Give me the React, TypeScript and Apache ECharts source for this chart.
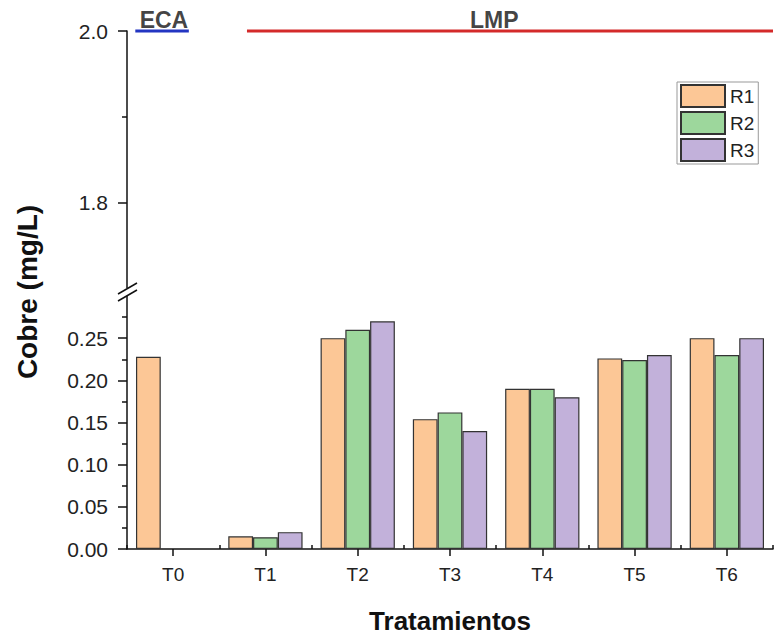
import React, { useEffect, useRef } from "react";
import * as echarts from "echarts";

const categories = ["T0", "T1", "T2", "T3", "T4", "T5", "T6"];
const seriesNames = ["R1", "R2", "R3"];
const r1 = [0.228, 0.015, 0.25, 0.154, 0.19, 0.226, 0.25];
const r2 = [null, 0.014, 0.26, 0.162, 0.19, 0.224, 0.23];
const r3 = [null, 0.02, 0.27, 0.14, 0.18, 0.23, 0.25];
const barColors = ["#FCC796", "#9DD79C", "#C2B1DA"];

const lowerMajorTicks = [0, 0.05, 0.1, 0.15, 0.2, 0.25];
const lowerMinorTicks = [0.025, 0.075, 0.125, 0.175, 0.225, 0.275];
const upperMajorTicks = [1.8, 2.0];
const upperMinorTicks = [1.9];

// reference limits drawn at 2.0 mg/L (x in category units, 0..7)
const ecaLine = [[0.09, 2.0], [0.67, 2.0]];
const lmpLine = [[1.3, 2.0], [7, 2.0]];
const refLabels = [[0.4, 2.0, "ECA"], [3.98, 2.0, "LMP"]];

const FONT = "Liberation Sans, Arial, sans-serif";

export default function App() {
  const ref = useRef<HTMLDivElement>(null);
  useEffect(() => {
    if (!ref.current) return;
    const chart = echarts.init(ref.current, null, { renderer: "svg" });
    const gridLeft = 127;
    const gridWidth = 646;
    const upper = { top: 31, height: 257 };
    const lower = { top: 296, height: 255 };
    const axisLineStyle = { color: "#111", width: 1.5 };

    const yCommon = (gridIndex: number, min: number, max: number) => ({
      type: "value",
      gridIndex,
      position: "left",
      min,
      max,
      splitLine: { show: false },
      axisLine: { show: true, lineStyle: axisLineStyle },
    });

    const option: any = {
      animation: false,
      backgroundColor: "#fff",
      textStyle: { fontFamily: FONT },
      grid: [
        { left: gridLeft, width: gridWidth, top: upper.top, height: upper.height },
        { left: gridLeft, width: gridWidth, top: lower.top, height: lower.height },
      ],
      xAxis: [
        { type: "value", gridIndex: 0, min: 0, max: 7, show: false },
        {
          type: "category",
          gridIndex: 1,
          data: categories,
          axisLine: { show: true, lineStyle: axisLineStyle },
          axisTick: { show: true, alignWithLabel: true, length: 7, lineStyle: { color: "#111", width: 1.5 } },
          axisLabel: { fontSize: 19, color: "#222", margin: 16, fontFamily: FONT },
          name: "Tratamientos",
          nameLocation: "middle",
          nameGap: 59,
          nameTextStyle: { fontSize: 26, fontWeight: "bold", color: "#111", fontFamily: FONT },
        },
        {
          type: "category",
          gridIndex: 1,
          data: categories,
          axisLine: { show: false },
          axisTick: { show: true, length: 4, lineStyle: { color: "#111", width: 1.5 } },
          axisLabel: { show: false },
        },
      ],
      yAxis: [
        {
          ...yCommon(0, 1.7, 2.0),
          axisTick: { show: true, customValues: upperMajorTicks, length: 9, lineStyle: { color: "#111", width: 1.5 } },
          axisLabel: {
            customValues: upperMajorTicks,
            fontSize: 21,
            color: "#222",
            margin: 19,
            fontFamily: FONT,
            formatter: (v: number) => v.toFixed(1),
          },
        },
        {
          ...yCommon(0, 1.7, 2.0),
          axisLine: { show: false },
          axisTick: { show: true, customValues: upperMinorTicks, length: 5, lineStyle: { color: "#111", width: 1.5 } },
          axisLabel: { show: false },
        },
        {
          ...yCommon(1, 0, 0.3),
          axisTick: { show: true, customValues: lowerMajorTicks, length: 9, lineStyle: { color: "#111", width: 1.5 } },
          axisLabel: {
            customValues: lowerMajorTicks,
            fontSize: 21,
            color: "#222",
            margin: 19,
            fontFamily: FONT,
            formatter: (v: number) => v.toFixed(2),
          },
        },
        {
          ...yCommon(1, 0, 0.3),
          axisLine: { show: false },
          axisTick: { show: true, customValues: lowerMinorTicks, length: 5, lineStyle: { color: "#111", width: 1.5 } },
          axisLabel: { show: false },
        },
      ],
      legend: {
        orient: "vertical",
        left: 677,
        top: 82,
        data: seriesNames,
        icon: "rect",
        itemWidth: 44,
        itemHeight: 22,
        itemGap: 3,
        padding: [2, 4, 2, 3],
        borderColor: "#999",
        borderWidth: 1,
        textStyle: { fontSize: 19, color: "#222", fontFamily: FONT },
      },
      series: [
        ...[r1, r2, r3].map((d, i) => ({
          type: "bar",
          name: seriesNames[i],
          xAxisIndex: 1,
          yAxisIndex: 2,
          data: d,
          barGap: "0%",
          barCategoryGap: "19.5%",
          itemStyle: { color: barColors[i], borderColor: "#333", borderWidth: 1.2 },
        })),
        {
          type: "line",
          name: "ECA",
          xAxisIndex: 0,
          yAxisIndex: 0,
          data: ecaLine,
          symbol: "none",
          clip: false,
          lineStyle: { color: "#2335C2", width: 3 },
        },
        {
          type: "line",
          name: "LMP",
          xAxisIndex: 0,
          yAxisIndex: 0,
          data: lmpLine,
          symbol: "none",
          clip: false,
          lineStyle: { color: "#D42A2A", width: 3 },
        },
        {
          type: "scatter",
          xAxisIndex: 0,
          yAxisIndex: 0,
          data: refLabels,
          symbolSize: 0,
          clip: false,
          label: {
            show: true,
            position: "top",
            distance: 0,
            formatter: (p: any) => p.data[2],
            fontSize: 23,
            fontWeight: "bold",
            color: "#111",
            fontFamily: FONT,
          },
        },
      ],
      graphic: [
        {
          type: "text",
          x: 27,
          y: 292,
          rotation: Math.PI / 2,
          style: {
            text: "Cobre (mg/L)",
            fontSize: 28,
            fontWeight: "bold",
            fill: "#111",
            fontFamily: FONT,
            textAlign: "center",
            textVerticalAlign: "middle",
          },
        },
        { type: "rect", shape: { x: 120, y: 288, width: 14, height: 8 }, style: { fill: "#fff" }, z: 10 },
        { type: "line", shape: { x1: 118, y1: 294, x2: 137, y2: 283 }, style: { stroke: "#111", lineWidth: 1.5 }, z: 11 },
        { type: "line", shape: { x1: 118, y1: 301, x2: 137, y2: 290 }, style: { stroke: "#111", lineWidth: 1.5 }, z: 11 },
      ],
    };
    chart.setOption(option);
    return () => chart.dispose();
  }, []);
  return <div ref={ref} style={{ width: 774, height: 635, position: "absolute", left: 0, top: 0 }} />;
}
